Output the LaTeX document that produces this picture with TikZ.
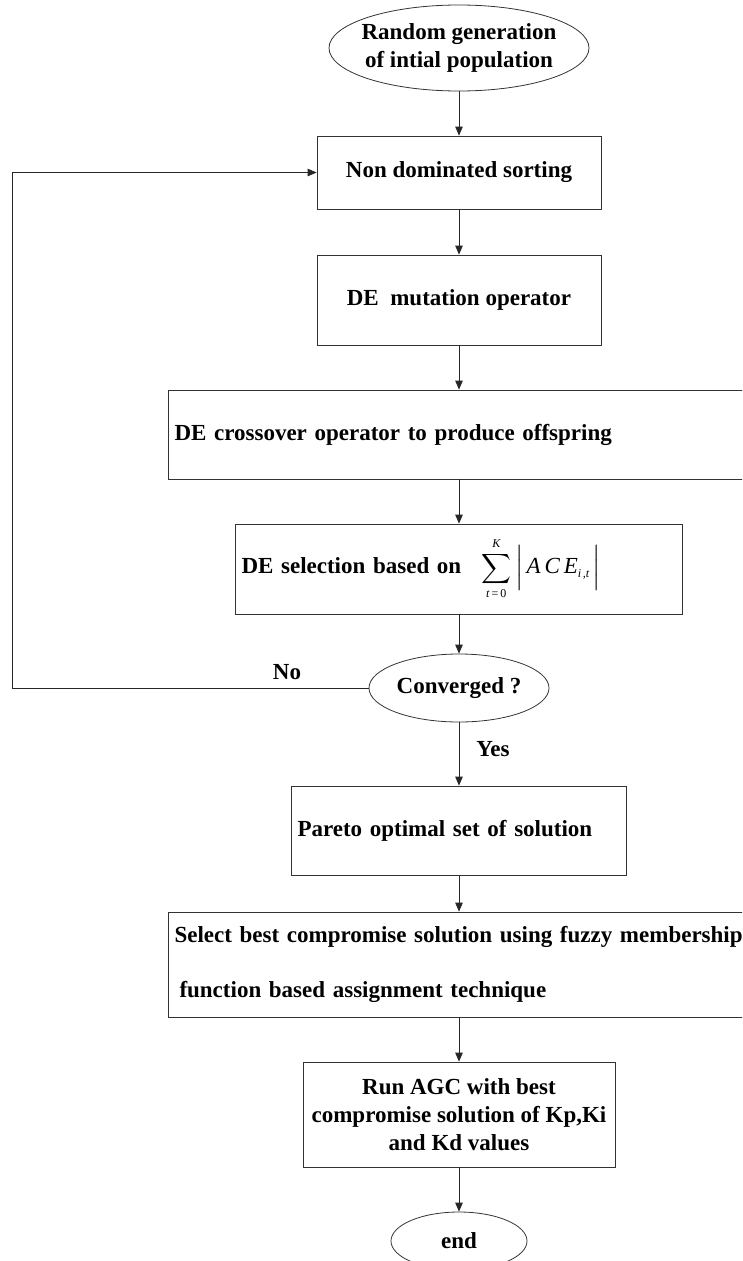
\documentclass[tikz,border=0pt]{standalone}
\usepackage{exscale}
\usepackage{fontspec}
\setmainfont{Liberation Serif}
\usetikzlibrary{shapes.geometric,arrows.meta}
\begin{document}
\begin{tikzpicture}[x=1pt,y=-1pt,
  every node/.style={font=\fontsize{23}{28}\selectfont\bfseries},
  boxnode/.style={draw=black!80, line width=0.8pt, rectangle, inner sep=0pt, align=center},
  ovalnode/.style={draw=black!80, line width=0.8pt, ellipse, inner sep=0pt, align=center},
  arrowline/.style={draw=black!85, line width=0.8pt, -{Triangle[length=9pt,width=7.5pt]}},
  lbl/.style={inner sep=0pt}]
\path[use as bounding box] (0,0) rectangle (742,1261);
\clip (0,0) rectangle (742,1261);

\node[ovalnode, minimum width=260, minimum height=86] (start) at (459,48)
  {\makebox[0pt]{Random generation}\\\makebox[0pt]{of intial population}};
\node[boxnode, minimum width=284, minimum height=73] (sort) at (459,172.5)
  {Non dominated sorting};
\node[boxnode, minimum width=284, minimum height=90] (mut) at (459,300)
  {DE\ \ mutation operator};
\node[boxnode, text width=619pt, inner xsep=6.5pt, minimum height=89, align=left] (cross) at (484,434.5)
  {DE crossover operator to produce offspring};
\node[boxnode, text width=435pt, inner xsep=6pt, minimum height=90, align=left] (sel) at (459,569)
  {DE selection based on\hspace{20pt}{\fontsize{20}{20}\selectfont$\displaystyle\sum_{\mbox{\fontsize{12}{12}\selectfont\mdseries\itshape t\upshape\,=\,0}}^{\mbox{\fontsize{12}{12}\selectfont\mdseries\itshape K}}$}\hspace{4pt}$\left|\rule[-9pt]{0pt}{32pt}\hspace{3pt}\mbox{\fontsize{23}{23}\selectfont\mdseries\itshape A\hspace{4pt}C\hspace{4pt}E}_{\mbox{\fontsize{12}{12}\selectfont\mdseries\itshape i\hspace{1.5pt},t}}\hspace{3pt}\right|$};
\node[ovalnode, minimum width=180, minimum height=68] (conv) at (459,688)
  {\makebox[0pt]{Converged ?}};
\node[boxnode, text width=323pt, inner xsep=6pt, minimum height=89, align=left] (pareto) at (459,830.5)
  {Pareto optimal set of solution};
\node[boxnode, text width=619pt, inner xsep=6.5pt, minimum height=105, align=left,
  font=\fontsize{23}{55}\selectfont\bfseries] (best) at (484,964.5)
  {Select best compromise solution using fuzzy membership\\\hspace*{5pt}function based assignment technique};
\node[boxnode, minimum width=312, minimum height=105,
  font=\fontsize{23}{28}\selectfont\bfseries] (agc) at (459,1114.5)
  {Run AGC with best\\compromise solution of Kp,Ki\\and Kd values};
\node[ovalnode, minimum width=136, minimum height=58] (fin) at (459,1241)
  {\makebox[0pt]{end}};

\draw[arrowline] (start) -- (sort);
\draw[arrowline] (sort) -- (mut);
\draw[arrowline] (mut.south) -- (mut.south |- cross.north);
\draw[arrowline] (cross.south -| sel.north) -- (sel.north);
\draw[arrowline] (sel) -- (conv);
\draw[arrowline] (conv) -- (pareto);
\draw[arrowline] (pareto.south) -- (pareto.south |- best.north);
\draw[arrowline] (best.south -| agc.north) -- (agc.north);
\draw[arrowline] (agc) -- (fin);
\coordinate (loop) at (12,688);
\draw[arrowline] (conv.west) -- (loop) |- (sort.west);

\node[lbl] (no) at (287,672) {No};
\node[lbl] (yes) at (493,749) {Yes};
\end{tikzpicture}
\end{document}
